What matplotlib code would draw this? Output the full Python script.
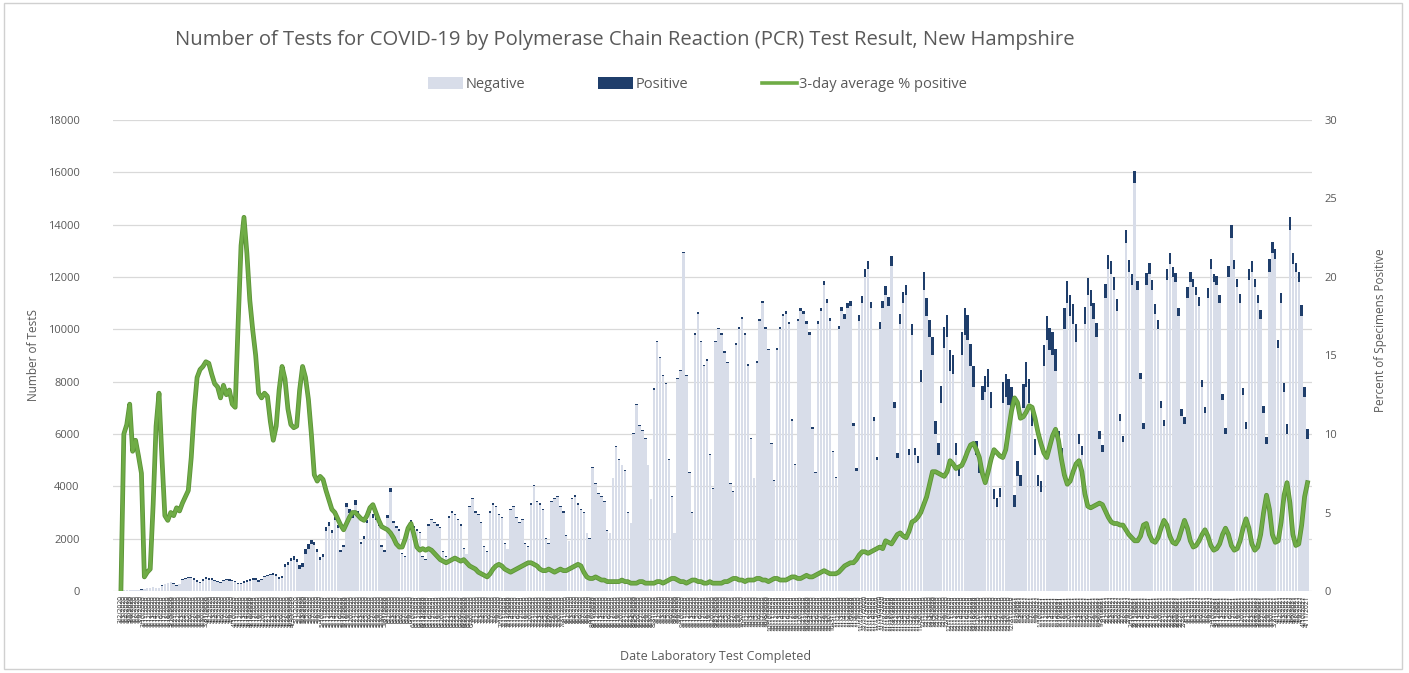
import matplotlib
matplotlib.use("Agg")
import matplotlib.pyplot as plt
import matplotlib.patheffects as pe
from matplotlib.patches import Patch, Rectangle
from matplotlib.lines import Line2D
import numpy as np
import pandas as pd

# Daily categories (lab completion dates)
DATES = pd.date_range("2020-03-02", periods=406, freq="D")
DATE_LABELS = [f"{d.month}/{d.day}/{d.year}" for d in DATES]

# Negative tests per day (one row per week, Mon..Sun)
NEGATIVE = [
    20, 27, 36, 35, 46, 27, 27,
    55, 79, 99, 118, 141, 116, 105,
    200, 260, 300, 330, 280, 210, 250,
    420, 470, 500, 480, 430, 360, 300,
    400, 450, 420, 440, 380, 330, 290,
    380, 420, 400, 390, 330, 260, 250,
    300, 340, 400, 420, 430, 360, 420,
    520, 560, 600, 620, 580, 450, 480,
    900, 1000, 1150, 1200, 1100, 850, 900,
    1400, 1600, 1800, 1750, 1500, 1200, 1300,
    2300, 2500, 2200, 2700, 2400, 1500, 1700,
    3200, 3000, 2800, 3300, 2900, 1800, 2000,
    2600, 3000, 2800, 2700, 2500, 1700, 1500,
    2800, 3800, 2600, 2400, 2300, 1400, 1300,
    2200, 2600, 2400, 2300, 2200, 1300, 1200,
    2500, 2700, 2600, 2500, 2400, 1500, 1300,
    2800, 3000, 2900, 2700, 2500, 1600, 1400,
    3200, 3500, 3000, 2900, 2600, 1700, 1500,
    3000, 3300, 3200, 2900, 2800, 1800, 1600,
    3100, 3200, 2800, 2600, 2700, 1800, 1700,
    3300, 4000, 3400, 3300, 3100, 2000, 1800,
    3400, 3500, 3600, 3200, 3000, 2100, 1900,
    3500, 3600, 3300, 3100, 3000, 2200, 2000,
    4700, 4100, 3700, 3600, 3400, 2300, 2200,
    4300, 5500, 5000, 4800, 4600, 3000, 2600,
    6000, 7100, 6300, 6100, 5800, 4800, 3500,
    7700, 9500, 8900, 8200, 7900, 5000, 3600,
    2200, 8100, 8400, 12900, 8200, 4500, 3000,
    9800, 10600, 9500, 8600, 8800, 5200, 3900,
    9500, 10000, 9800, 9100, 8700, 4100, 3800,
    9400, 10000, 10400, 9800, 8600, 5800, 4300,
    8700, 10300, 11000, 10000, 9200, 5600, 4200,
    9200, 10000, 10500, 10600, 10200, 6500, 4800,
    10300, 10700, 10600, 10200, 9800, 6200, 4500,
    10200, 10700, 11700, 11000, 10300, 5300, 4300,
    10000, 10700, 10400, 10800, 10900, 6300, 4600,
    10300, 11000, 12000, 12300, 10800, 6500, 5000,
    10000, 10800, 11300, 10900, 12400, 7000, 5100,
    10200, 11000, 11300, 5200, 9800, 5200, 4900,
    8000, 11500, 10500, 9700, 9000, 6000, 5200,
    7200, 9300, 9700, 8400, 8300, 5200, 4400,
    9000, 9800, 9600, 8600, 7800, 5200, 4500,
    7300, 7600, 7800, 7000, 3500, 3200, 3600,
    7200, 7400, 7100, 6900, 3200, 4400, 4000,
    7000, 7800, 7200, 6300, 5200, 4000, 3800,
    8600, 9600, 9200, 9000, 8400, 5600, 5000,
    10000, 11000, 10500, 10200, 9500, 5600, 5200,
    10200, 11300, 10900, 10400, 9700, 5800, 5300,
    11200, 12300, 12100, 11500, 10700, 6500, 5700,
    13300, 12200, 11700, 15600, 11500, 8100, 6200,
    11700, 12100, 11500, 10600, 10000, 7000, 6300,
    11900, 12500, 12000, 11800, 10500, 6700, 6400,
    11200, 11800, 11600, 11300, 10900, 7800, 6800,
    11200, 12300, 11800, 11700, 11000, 7300, 6000,
    12000, 13500, 12300, 11600, 11000, 7500, 6200,
    11900, 12200, 11600, 11000, 10400, 6800, 5600,
    12200, 12900, 12700, 9300, 11000, 7600, 6000,
    13800, 12500, 12200, 11800, 10500, 7400, 5800,
]

# Positive tests per day
POSITIVE = [
    0, 3, 4, 5, 4, 3, 3,
    5, 1, 1, 2, 9, 14, 15,
    25, 14, 14, 17, 15, 12, 14,
    25, 30, 35, 45, 55, 55, 45,
    65, 75, 70, 65, 55, 50, 45,
    55, 55, 55, 50, 45, 60, 70,
    90, 75, 70, 70, 60, 45, 55,
    65, 70, 60, 55, 65, 80, 90,
    130, 120, 110, 120, 130, 150, 170,
    200, 180, 150, 120, 110, 90, 100,
    140, 130, 120, 130, 110, 70, 70,
    160, 150, 140, 170, 140, 90, 100,
    130, 150, 150, 130, 110, 70, 70,
    100, 120, 90, 80, 70, 40, 45,
    90, 100, 80, 60, 55, 35, 30,
    60, 65, 55, 50, 45, 30, 25,
    55, 60, 60, 50, 45, 35, 30,
    50, 50, 40, 35, 30, 20, 15,
    40, 50, 50, 45, 40, 25, 20,
    40, 40, 40, 40, 45, 30, 30,
    55, 60, 55, 45, 40, 25, 25,
    45, 45, 45, 45, 40, 25, 25,
    55, 55, 55, 50, 35, 20, 15,
    40, 35, 30, 25, 25, 14, 12,
    30, 35, 30, 30, 28, 18, 16,
    35, 40, 35, 35, 30, 25, 18,
    40, 55, 50, 45, 45, 30, 25,
    20, 55, 55, 70, 50, 30, 25,
    60, 60, 55, 50, 50, 30, 25,
    50, 55, 55, 55, 50, 30, 30,
    70, 70, 70, 60, 60, 40, 30,
    70, 80, 80, 70, 65, 40, 35,
    75, 80, 80, 90, 85, 55, 45,
    90, 100, 100, 100, 100, 60, 45,
    120, 130, 150, 140, 120, 60, 50,
    130, 160, 180, 190, 200, 110, 90,
    250, 280, 300, 300, 260, 160, 130,
    280, 300, 350, 340, 400, 230, 180,
    380, 430, 400, 220, 420, 260, 260,
    450, 700, 700, 650, 700, 500, 450,
    650, 800, 850, 800, 700, 450, 380,
    900, 1000, 950, 850, 800, 520, 450,
    550, 600, 700, 600, 400, 350, 350,
    800, 900, 1000, 900, 450, 550, 450,
    900, 950, 900, 700, 600, 450, 400,
    800, 900, 850, 900, 850, 500, 450,
    800, 850, 800, 750, 700, 400, 350,
    650, 650, 600, 600, 550, 300, 280,
    550, 550, 500, 500, 460, 270, 240,
    480, 450, 400, 450, 350, 240, 220,
    450, 450, 400, 370, 340, 260, 240,
    420, 420, 380, 350, 330, 250, 240,
    400, 380, 340, 330, 330, 250, 230,
    380, 380, 330, 320, 320, 230, 210,
    400, 480, 350, 330, 330, 250, 240,
    420, 400, 330, 320, 350, 280, 300,
    500, 420, 380, 300, 400, 350, 380,
    500, 400, 350, 380, 420, 400, 400,
]

# 3-day average percent positive
PCT_3DAY = [
    0.0, 10.0, 10.6, 11.9, 8.9, 9.6, 8.6,
    7.5, 0.9, 1.2, 1.4, 5.5, 10.5, 12.6,
    8.5, 4.8, 4.5, 5.0, 4.8, 5.3, 5.1,
    5.6, 6.0, 6.4, 8.5, 11.5, 13.6, 14.1,
    14.3, 14.6, 14.5, 13.8, 13.2, 13.0, 12.3,
    13.1, 12.5, 12.8, 11.9, 11.7, 17.0, 22.0,
    23.8, 21.5, 18.5, 16.6, 15.0, 12.6, 12.3,
    12.6, 12.4, 10.8, 9.6, 10.5, 12.8, 14.3,
    13.5, 11.6, 10.6, 10.4, 10.5, 12.8, 14.3,
    13.6, 12.2, 10.0, 7.4, 7.0, 7.3, 7.1,
    6.4, 5.8, 5.2, 5.0, 4.6, 4.2, 3.9,
    4.3, 4.7, 5.0, 5.0, 4.8, 4.6, 4.5,
    4.8, 5.3, 5.5, 5.0, 4.5, 4.1, 4.0,
    3.9, 3.7, 3.4, 3.0, 2.8, 2.8, 3.3,
    4.0, 4.3, 3.6, 2.8, 2.6, 2.7, 2.6,
    2.7, 2.6, 2.4, 2.2, 2.0, 1.9, 1.8,
    1.9, 2.0, 2.1, 2.0, 1.9, 2.0, 1.8,
    1.6, 1.5, 1.4, 1.2, 1.1, 1.0, 0.9,
    1.1, 1.4, 1.6, 1.7, 1.6, 1.4, 1.3,
    1.2, 1.3, 1.4, 1.5, 1.6, 1.7, 1.8,
    1.8, 1.7, 1.6, 1.4, 1.3, 1.3, 1.4,
    1.3, 1.2, 1.3, 1.4, 1.3, 1.3, 1.4,
    1.5, 1.6, 1.7, 1.6, 1.2, 0.9, 0.8,
    0.8, 0.9, 0.8, 0.7, 0.7, 0.6, 0.6,
    0.6, 0.6, 0.6, 0.7, 0.6, 0.6, 0.5,
    0.5, 0.5, 0.6, 0.6, 0.5, 0.5, 0.5,
    0.5, 0.6, 0.6, 0.5, 0.6, 0.7, 0.8,
    0.8, 0.7, 0.6, 0.6, 0.5, 0.6, 0.7,
    0.7, 0.6, 0.6, 0.5, 0.5, 0.6, 0.5,
    0.5, 0.5, 0.5, 0.6, 0.6, 0.7, 0.8,
    0.8, 0.7, 0.7, 0.6, 0.7, 0.7, 0.7,
    0.8, 0.8, 0.7, 0.7, 0.6, 0.7, 0.8,
    0.8, 0.7, 0.7, 0.7, 0.8, 0.9, 0.9,
    0.8, 0.8, 0.9, 1.0, 0.9, 0.9, 1.0,
    1.1, 1.2, 1.3, 1.2, 1.1, 1.1, 1.1,
    1.2, 1.4, 1.6, 1.7, 1.8, 1.8, 2.0,
    2.3, 2.5, 2.5, 2.4, 2.5, 2.6, 2.7,
    2.8, 2.7, 3.2, 3.1, 3.0, 3.3, 3.6,
    3.7, 3.5, 3.4, 3.8, 4.4, 4.5, 4.7,
    5.0, 5.5, 6.0, 6.8, 7.6, 7.6, 7.5,
    7.4, 7.3, 7.6, 8.3, 8.1, 7.8, 7.9,
    8.0, 8.4, 8.9, 9.3, 9.4, 9.0, 8.5,
    7.5, 6.9, 7.6, 8.4, 9.0, 8.8, 8.6,
    8.5, 9.0, 10.3, 11.5, 12.3, 12.0, 11.0,
    11.1, 11.4, 11.8, 11.7, 11.0, 10.1, 9.4,
    8.8, 8.5, 9.2, 9.9, 10.3, 9.6, 8.4,
    7.4, 6.8, 7.0, 7.6, 8.1, 8.3, 7.6,
    6.2, 5.4, 5.3, 5.4, 5.5, 5.6, 5.5,
    5.1, 4.7, 4.4, 4.3, 4.3, 4.2, 4.2,
    3.9, 3.6, 3.4, 3.2, 3.2, 3.5, 4.2,
    4.3, 3.6, 3.2, 3.1, 3.4, 4.0, 4.5,
    4.2, 3.5, 3.1, 3.0, 3.3, 3.9, 4.5,
    4.0, 3.2, 2.8, 2.9, 3.2, 3.6, 3.9,
    3.5, 2.9, 2.6, 2.7, 3.0, 3.6, 4.0,
    3.6, 2.9, 2.6, 2.7, 3.2, 4.0, 4.6,
    4.0, 3.0, 2.6, 2.8, 3.6, 5.0, 6.1,
    5.2, 3.6, 3.1, 3.2, 4.4, 6.1, 6.9,
    5.6, 3.6, 2.9, 3.0, 4.2, 6.0, 6.9,
]

NEG_COLOR = "#d8dde9"
POS_COLOR = "#1f3e6b"
LINE_COLOR = "#6fac46"
TEXT = "#595959"
FONT = ["Open Sans", "DejaVu Sans"]

plt.rcParams["font.family"] = FONT

fig = plt.figure(figsize=(14.09, 6.73), dpi=100)
ax = fig.add_axes([0.0802, 0.1218, 0.8509, 0.7000])

x = np.arange(len(NEGATIVE))
neg = np.array(NEGATIVE)
pos = np.array(POSITIVE)

ax.bar(x, neg, width=0.82, color=NEG_COLOR, linewidth=0, zorder=2)
ax.bar(x, pos, width=0.82, bottom=neg, color=POS_COLOR, linewidth=0, zorder=2)

ax.set_ylim(0, 18000)
ax.set_xlim(-2.7, len(x) + 0.5)
ax.set_yticks(np.arange(0, 18001, 2000))
ax.yaxis.grid(True, color="#d9d9d9", linewidth=0.9, zorder=0)
ax.set_axisbelow(True)
for s in ax.spines.values():
    s.set_visible(False)
ax.tick_params(axis="y", length=0, pad=24, labelsize=8, labelcolor=TEXT)
ax.set_xticks(x)
ax.set_xticklabels(DATE_LABELS, rotation=90, fontsize=4.8, color="#2a2a2a")
ax.tick_params(axis="x", length=0, pad=3)

ax2 = ax.twinx()
ax2.plot(x, PCT_3DAY, color=LINE_COLOR, linewidth=2.2, zorder=5,
         path_effects=[pe.Stroke(linewidth=3.4, foreground="#5c9338"), pe.Normal()])
ax2.set_ylim(0, 30)
ax2.set_yticks(np.arange(0, 31, 5))
for s in ax2.spines.values():
    s.set_visible(False)
ax2.tick_params(axis="y", length=0, pad=9, labelsize=8, labelcolor=TEXT)

fig.text(0.4436, 0.9406, "Number of Tests for COVID-19 by Polymerase Chain Reaction (PCR) Test Result, New Hampshire",
         ha="center", va="center", fontsize=14.6, color=TEXT)
fig.text(0.0235, 0.473, "Number of TestS", rotation=90, ha="center", va="center",
         fontsize=8.5, color=TEXT)
fig.text(0.980, 0.51, "Percent of Specimens Positive", rotation=90, ha="center", va="center",
         fontsize=8.5, color=TEXT)
fig.text(0.508, 0.024, "Date Laboratory Test Completed", ha="center", va="center",
         fontsize=9, color=TEXT)

handles = [
    Patch(facecolor=NEG_COLOR, edgecolor="none", label="Negative"),
    Patch(facecolor=POS_COLOR, edgecolor="none", label="Positive"),
    Line2D([0], [0], color=LINE_COLOR, linewidth=2.6, label="3-day average % positive"),
]
fig.legend(handles=handles, loc="center", bbox_to_anchor=(0.495, 0.874), ncol=3,
           frameon=False, fontsize=10.5, labelcolor=TEXT, handlelength=2.4,
           handleheight=0.9, handletextpad=0.2, columnspacing=5.0)

fig.patches.append(Rectangle((0.003, 0.006), 0.992, 0.99, transform=fig.transFigure,
                             fill=False, edgecolor="#d0d0d0", linewidth=1.0))

fig.savefig("out.png", dpi=100)
